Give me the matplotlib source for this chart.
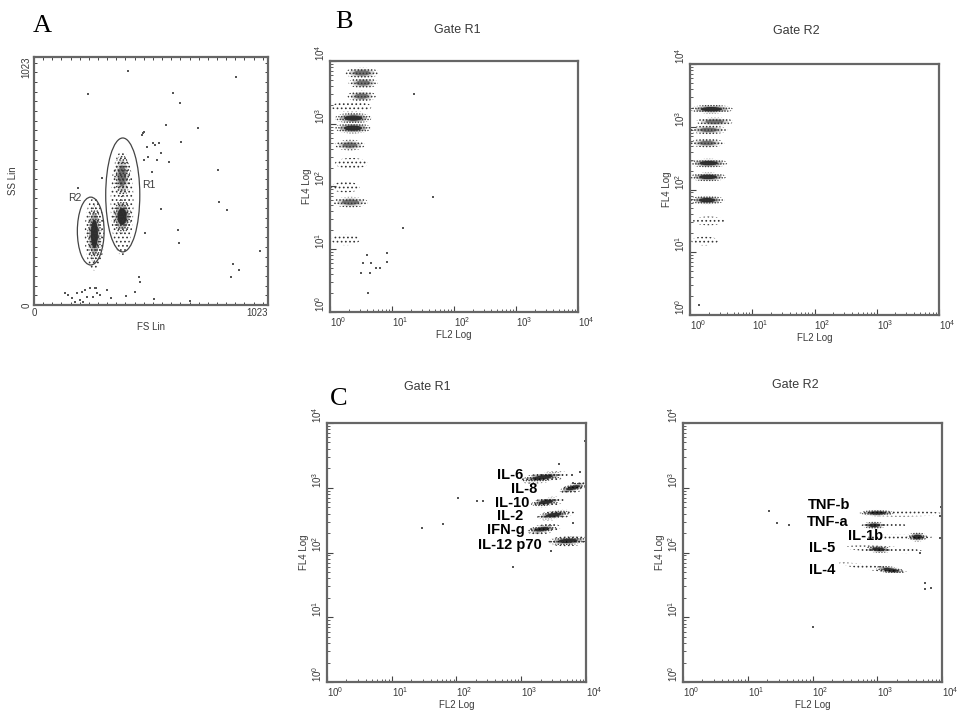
import numpy as np
import matplotlib
matplotlib.use("Agg")
import matplotlib.pyplot as plt
from matplotlib.patches import Ellipse

plt.rcParams["font.family"] = ["Liberation Sans", "DejaVu Sans"]
plt.rcParams["mathtext.fontset"] = "custom"
plt.rcParams["mathtext.rm"] = "Liberation Sans"
plt.rcParams["mathtext.it"] = "Liberation Sans"
plt.rcParams["hatch.linewidth"] = 0.7

# ---- Panel A: FS Lin vs SS Lin (channels 0-1023) ----
a_gate_names = ["R1", "R2"]
a_gate_fs = [388, 248]
a_gate_ss = [454, 305]
a_gate_w = [149, 117]
a_gate_h = [470, 280]
a_label_fs = [472, 149]
a_label_ss = [495, 441]

# event clouds: centre, size, density level (1 sparse .. 3 dense)
a_cloud_fs = [385, 385, 385, 264, 264]
a_cloud_ss = [365, 532, 420, 293, 293]
a_cloud_w = [80, 70, 100, 62, 85]
a_cloud_h = [140, 175, 430, 235, 300]
a_cloud_level = [3, 2, 1, 3, 1]

a_event_fs = [411, 236, 608, 638, 883, 577, 717, 643, 555, 590, 516, 804, 555, 809, 844,
              630, 634, 485, 988, 870, 896, 861, 459, 463, 402, 525, 682, 337, 442, 494,
              477, 529, 297, 192, 271, 149, 166, 188, 201, 223, 245, 267, 214, 258, 289,
              319, 136, 179, 232, 210, 276, 472, 481, 520, 547, 498, 481, 538]
a_event_ss = [965, 870, 875, 833, 940, 743, 730, 672, 627, 590, 549, 557, 396, 425, 392,
              309, 256, 297, 223, 169, 144, 116, 116, 95, 37, 25, 16, 29, 54, 652,
              710, 660, 524, 483, 70, 41, 29, 50, 21, 62, 70, 70, 12, 33, 41,
              62, 50, 12, 33, 54, 50, 701, 714, 668, 668, 610, 598, 598]

# ---- Panel B: bead bands, log10 decades (FL2, FL4) ----
b1_band_fl4 = [3.81, 3.65, 3.44, 3.27, 3.09, 2.93, 2.66, 2.37, 1.99, 1.75, 1.15]
b1_band_lo = [0.24, 0.30, 0.28, 0.02, 0.08, 0.08, 0.08, 0.08, 0.02, 0.05, 0.02]
b1_band_hi = [0.79, 0.77, 0.74, 0.67, 0.67, 0.66, 0.56, 0.61, 0.48, 0.61, 0.48]
b1_band_level = [2, 2, 2, 1, 3, 3, 2, 1, 1, 2, 1]
b1_event_fl2 = [1.35, 1.66, 1.18, 0.92, 0.92, 0.60, 0.53, 0.66, 0.74, 0.81, 0.65, 0.50, 0.61]
b1_event_fl4 = [3.47, 1.83, 1.34, 0.94, 0.80, 0.91, 0.78, 0.78, 0.70, 0.70, 0.62, 0.62, 0.30]

b2_band_fl4 = [3.28, 3.08, 2.95, 2.74, 2.42, 2.20, 1.83, 1.50, 1.18]
b2_band_lo = [0.00, 0.10, 0.00, 0.00, 0.00, 0.00, 0.00, 0.05, 0.02]
b2_band_hi = [0.69, 0.69, 0.60, 0.55, 0.60, 0.58, 0.55, 0.55, 0.45]
b2_band_level = [3, 2, 2, 2, 3, 3, 3, 1, 1]
b2_event_fl2 = [0.14]
b2_event_fl4 = [0.16]

# ---- Panel C: cytokine bead clusters, log10 decades ----
c1_names = ["IL-6", "IL-8", "IL-10", "IL-2", "IFN-g", "IL-12 p70"]
c1_fl2 = [3.33, 3.80, 3.38, 3.50, 3.32, 3.72]
c1_fl4 = [3.16, 3.00, 2.78, 2.58, 2.36, 2.18]
c1_w = [0.65, 0.42, 0.45, 0.50, 0.45, 0.60]
c1_h = [0.13, 0.12, 0.12, 0.12, 0.12, 0.13]
c1_tilt = [8, 15, 8, 8, 8, 3]
c1_label_fl2 = [3.03, 3.24, 3.12, 3.03, 3.06, 3.32]
c1_label_fl4 = [3.20, 2.98, 2.77, 2.57, 2.35, 2.12]
c1_event_fl2 = [2.02, 1.47, 1.79, 2.32, 2.41, 2.87, 3.46, 3.98, 3.58, 3.78, 3.80, 3.80, 3.91]
c1_event_fl4 = [2.84, 2.38, 2.44, 2.80, 2.80, 1.78, 2.02, 3.72, 3.37, 3.20, 2.46, 3.07, 3.24]

c2_names = ["TNF-b", "TNF-a", "IL-1b", "IL-5", "IL-4"]
c2_fl2 = [3.00, 2.95, 3.62, 3.02, 3.20]
c2_fl4 = [2.61, 2.42, 2.24, 2.05, 1.73]
c2_w = [0.50, 0.35, 0.30, 0.40, 0.45]
c2_h = [0.10, 0.11, 0.14, 0.11, 0.11]
c2_tilt = [0, 0, 0, -3, -8]
c2_tail_fl2 = [3.35, 3.10, 3.35, 3.10, 2.95]
c2_tail_fl4 = [2.60, 2.42, 2.24, 2.05, 1.76]
c2_tail_w = [1.30, 0.70, 1.00, 1.20, 1.10]
c2_tail_h = [0.09, 0.08, 0.08, 0.10, 0.08]
c2_label_fl2 = [2.58, 2.56, 3.09, 2.35, 2.36]
c2_label_fl4 = [2.73, 2.47, 2.25, 2.07, 1.73]
c2_event_fl2 = [1.33, 1.45, 1.64, 2.00, 3.74, 3.74, 3.83, 3.99, 3.97, 3.97, 3.66]
c2_event_fl4 = [2.64, 2.46, 2.42, 0.85, 1.53, 1.44, 1.45, 2.70, 2.56, 2.22, 1.99]

HATCH = {1: "....", 2: ".....", 3: "......"}
CORE_ALPHA = {1: 0.0, 2: 0.45, 3: 0.75}
DOT = "#333333"
TXT = "#3a3a3a"
W, H = 957, 713


def add_cloud(ax, x, y, w, h, level, angle=0):
    if CORE_ALPHA[level] > 0:
        ax.add_patch(Ellipse((x, y), w * 0.75, h * 0.75, angle=angle,
                             facecolor="black", alpha=CORE_ALPHA[level] * 0.4, linewidth=0))
        ax.add_patch(Ellipse((x, y), w * 0.5, h * 0.5, angle=angle,
                             facecolor="black", alpha=CORE_ALPHA[level], linewidth=0))
    ax.add_patch(Ellipse((x, y), w, h, angle=angle, facecolor="none",
                         edgecolor=DOT, linewidth=0, hatch=HATCH[level]))


def add_events(ax, xs, ys):
    ax.scatter(xs, ys, s=2.5, color="#555555", linewidths=0, marker="s")


def style_frame(ax):
    for sp in ax.spines.values():
        sp.set_color("#666666")
        sp.set_linewidth(1.6)


def setup_log_axes(ax):
    ax.set_xlim(0, 4)
    ax.set_ylim(0, 4)
    majors = [0, 1, 2, 3, 4]
    labels = [f"$10^{k}$" for k in majors]
    ax.set_xticks(majors, labels)
    ax.set_yticks(majors, labels)
    minors = [d + np.log10(k) for d in range(4) for k in range(2, 10)]
    ax.set_xticks(minors, minor=True)
    ax.set_yticks(minors, minor=True)
    ax.tick_params(which="both", direction="in", color="#444444",
                   labelsize=7, labelcolor=TXT, pad=2)
    ax.tick_params(which="major", length=4, width=0.8)
    ax.tick_params(which="minor", length=2, width=0.6)
    for lab in ax.get_yticklabels():
        lab.set_rotation(90)
        lab.set_va("bottom")
    for lab in ax.get_xticklabels():
        lab.set_ha("left")
    ax.set_xlabel("FL2 Log", fontsize=7, color=TXT, labelpad=1)
    ax.set_ylabel("FL4 Log", fontsize=7, color=TXT, labelpad=1)
    style_frame(ax)


def px_axes(fig, x0, x1, y0, y1):
    return fig.add_axes([x0 / W, 1 - y1 / H, (x1 - x0) / W, (y1 - y0) / H])


fig = plt.figure(figsize=(W / 100, H / 100), dpi=100)

# Panel A
ax_a = px_axes(fig, 34, 268, 57, 305)
ax_a.set_xlim(0, 1023)
ax_a.set_ylim(0, 1023)
for i in range(len(a_cloud_fs)):
    add_cloud(ax_a, a_cloud_fs[i], a_cloud_ss[i], a_cloud_w[i], a_cloud_h[i], a_cloud_level[i])
add_events(ax_a, a_event_fs, a_event_ss)
for i, name in enumerate(a_gate_names):
    ax_a.add_patch(Ellipse((a_gate_fs[i], a_gate_ss[i]), a_gate_w[i], a_gate_h[i],
                           facecolor="none", edgecolor="#444444", linewidth=0.9))
    ax_a.text(a_label_fs[i], a_label_ss[i], name, ha="left", va="center",
              fontsize=7.5, color=TXT)
ax_a.set_xticks([0, 1023], ["0", "1023"])
ax_a.set_yticks([0, 1023], ["0", "1023"])
ax_a.set_xticks(np.arange(40, 1023, 40), minor=True)
ax_a.set_yticks(np.arange(40, 1023, 40), minor=True)
ax_a.tick_params(which="both", direction="in", color="#444444", top=True, right=True,
                 labelsize=7, labelcolor=TXT, pad=2)
ax_a.tick_params(which="major", length=0)
ax_a.tick_params(which="minor", length=2.5, width=0.7)
ax_a.get_xticklabels()[1].set_ha("right")
ylabs = ax_a.get_yticklabels()
for lab in ylabs:
    lab.set_rotation(90)
    lab.set_va("center")
ylabs[1].set_va("top")
ax_a.set_xlabel("FS Lin", fontsize=7, color=TXT, labelpad=3)
ax_a.set_ylabel("SS Lin", fontsize=7, color=TXT, labelpad=2)
style_frame(ax_a)

# Panel B
ax_b1 = px_axes(fig, 330, 578, 61, 312)
for i in range(len(b1_band_fl4)):
    lo, hi = b1_band_lo[i], b1_band_hi[i]
    add_cloud(ax_b1, (lo + hi) / 2, b1_band_fl4[i], hi - lo, 0.17, b1_band_level[i])
add_events(ax_b1, b1_event_fl2, b1_event_fl4)
setup_log_axes(ax_b1)

ax_b2 = px_axes(fig, 690, 939, 64, 315)
for i in range(len(b2_band_fl4)):
    lo, hi = b2_band_lo[i], b2_band_hi[i]
    add_cloud(ax_b2, (lo + hi) / 2, b2_band_fl4[i], hi - lo, 0.14, b2_band_level[i])
add_events(ax_b2, b2_event_fl2, b2_event_fl4)
setup_log_axes(ax_b2)

# Panel C
ax_c1 = px_axes(fig, 327, 586, 423, 682)
for i, name in enumerate(c1_names):
    add_cloud(ax_c1, c1_fl2[i] + 0.03, c1_fl4[i], c1_w[i] * 1.15, c1_h[i] * 1.25, 1, angle=c1_tilt[i])
    add_cloud(ax_c1, c1_fl2[i], c1_fl4[i], c1_w[i], c1_h[i], 3, angle=c1_tilt[i])
    ax_c1.text(c1_label_fl2[i], c1_label_fl4[i], name, ha="right", va="center",
               fontsize=10.5, color="black", fontweight="bold")
add_events(ax_c1, c1_event_fl2, c1_event_fl4)
setup_log_axes(ax_c1)

ax_c2 = px_axes(fig, 683, 942, 423, 682)
for i, name in enumerate(c2_names):
    add_cloud(ax_c2, c2_tail_fl2[i], c2_tail_fl4[i], c2_tail_w[i], c2_tail_h[i], 1, angle=c2_tilt[i])
    add_cloud(ax_c2, c2_fl2[i], c2_fl4[i], c2_w[i], c2_h[i], 3, angle=c2_tilt[i])
    ax_c2.text(c2_label_fl2[i], c2_label_fl4[i], name, ha="right", va="center",
               fontsize=10.5, color="black", fontweight="bold")
add_events(ax_c2, c2_event_fl2, c2_event_fl4)
setup_log_axes(ax_c2)

# titles and panel letters
for (x, y, t) in [(457, 30, "Gate R1"), (796, 31, "Gate R2"),
                  (427, 387, "Gate R1"), (795, 385, "Gate R2")]:
    fig.text(x / W, 1 - y / H, t, ha="center", va="center", fontsize=9, color=TXT)
for (x, y, t) in [(33, 32, "A"), (335, 28, "B"), (330, 405, "C")]:
    fig.text(x / W, 1 - y / H, t, ha="left", va="baseline", fontsize=19,
             family=["Liberation Serif", "DejaVu Serif"], color="black")

fig.savefig("out.png", dpi=100)
